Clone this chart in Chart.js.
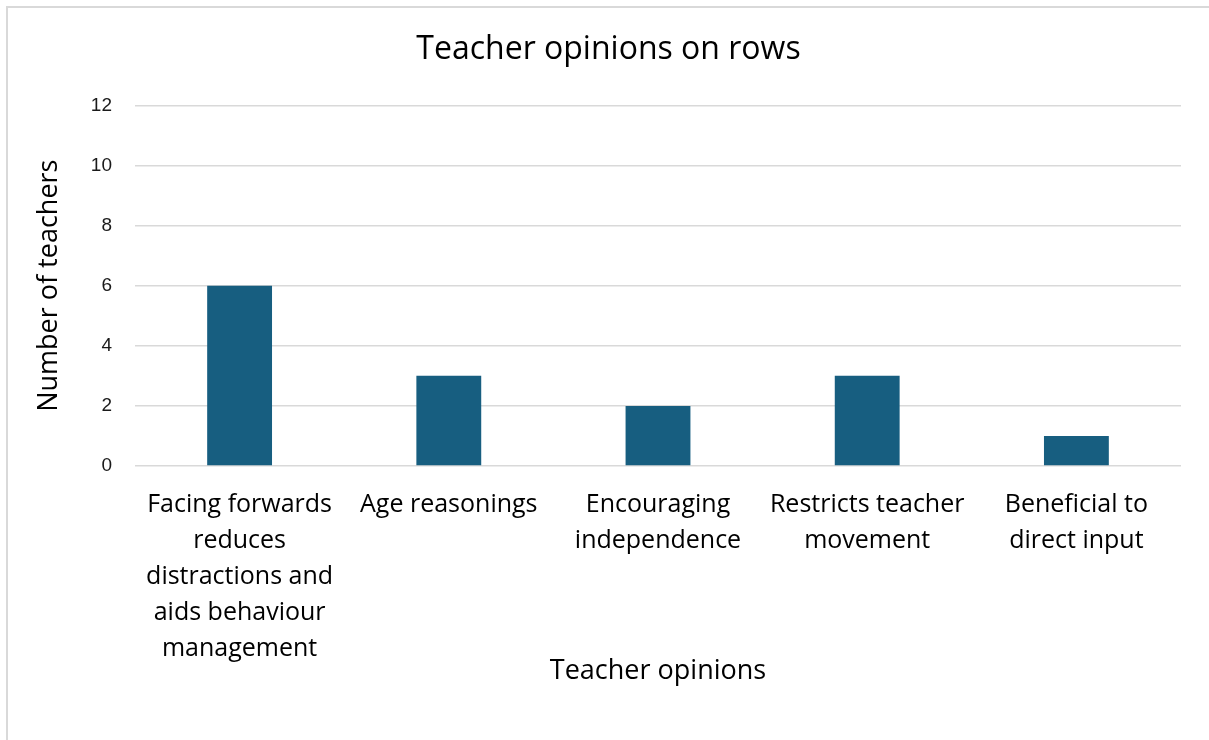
<!DOCTYPE html>
<html lang="en">
<head>
  <meta charset="UTF-8">
  <title>Teacher opinions on rows</title>
  <style>
    body {
      margin: 0;
      background: #ffffff;
    }
    .frame {
      position: absolute;
      left: 6px;
      top: 6px;
      width: 1201px;
      height: 732px;
      border-left: 2px solid #d9d9d9;
      border-top: 2px solid #d9d9d9;
    }
  </style>
</head>
<body>
  <div class="frame">
    <canvas id="opinionsChart"></canvas>
  </div>

  <script src="https://cdn.jsdelivr.net/npm/chart.js"></script>
  <script>
    // categories (multi-line labels as in the original)
    const opinions = [
      ['Facing forwards', 'reduces', 'distractions and', 'aids behaviour', 'management'],
      'Age reasonings',
      ['Encouraging', 'independence'],
      ['Restricts teacher', 'movement'],
      ['Beneficial to', 'direct input']
    ];
    const teacherCounts = [6, 3, 2, 3, 1];
    const yTicks = [0, 2, 4, 6, 8, 10, 12];

    const labelFont = '"Open Sans", Lato, sans-serif';

    const ctx = document.getElementById('opinionsChart').getContext('2d');
    const opinionsChart = new Chart(ctx, {
      type: 'bar',
      data: {
        labels: opinions,
        datasets: [{
          label: 'Number of teachers',
          data: teacherCounts,
          backgroundColor: '#175e80',
          barPercentage: 0.31,
          categoryPercentage: 1
        }]
      },
      options: {
        responsive: true,
        maintainAspectRatio: false,
        animation: false,
        layout: {
          padding: 0
        },
        plugins: {
          legend: { display: false },
          tooltip: { enabled: false },
          title: {
            display: true,
            text: 'Teacher opinions on rows',
            color: '#000000',
            font: { family: labelFont, size: 32, weight: 'normal', lineHeight: 1.2 },
            padding: { top: 23, bottom: 36 }
          }
        },
        scales: {
          x: {
            grid: { display: false, drawTicks: false },
            border: { display: false },
            ticks: {
              color: '#000000',
              maxRotation: 0,
              autoSkip: false,
              padding: 21,
              font: { family: labelFont, size: 25, lineHeight: 1.44 }
            },
            title: {
              display: true,
              text: 'Teacher opinions',
              color: '#000000',
              font: { family: labelFont, size: 27, lineHeight: 1.2 },
              padding: { top: 0, bottom: 52 }
            },
            afterFit: function(scale) {
              scale.height = 274;
            }
          },
          y: {
            min: 0,
            max: 12,
            grid: { color: '#d9d9d9', lineWidth: 1.5, drawTicks: false },
            border: { display: false },
            afterBuildTicks: function(scale) {
              scale.ticks = yTicks.map(v => ({ value: v }));
            },
            ticks: {
              color: '#1a1a1a',
              padding: 23,
              font: { family: '"Liberation Sans", Arial, sans-serif', size: 19 }
            },
            title: {
              display: true,
              text: 'Number of teachers',
              color: '#000000',
              font: { family: labelFont, size: 27, lineHeight: 1.2 },
              padding: { top: 25, bottom: 0 }
            },
            afterFit: function(scale) {
              scale.width = 127;
            }
          },
          // empty strip on the right so the plot stops short of the frame
          yRight: {
            position: 'right',
            display: true,
            grid: { display: false, drawTicks: false },
            border: { display: false },
            ticks: { display: false },
            afterFit: function(scale) {
              scale.width = 28;
            }
          }
        }
      }
    });
  </script>
</body>
</html>
